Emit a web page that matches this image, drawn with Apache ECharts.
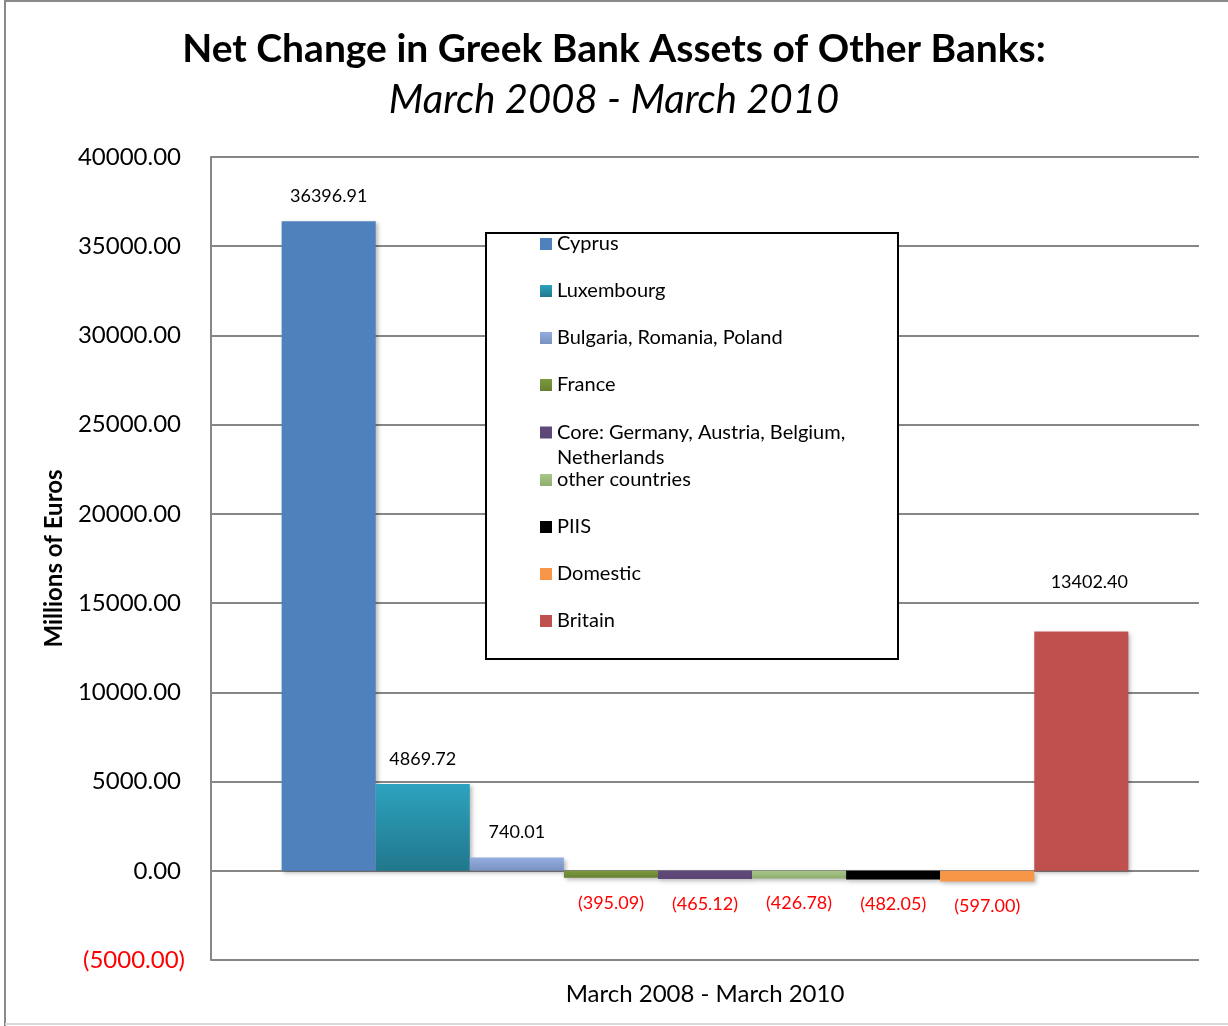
<!DOCTYPE html>
<html>
<head>
<meta charset="utf-8">
<script src="https://cdn.jsdelivr.net/npm/echarts@6/dist/echarts.min.js"></script>
<style>
  html, body { margin: 0; padding: 0; background: #fff; }
  #chart { width: 1228px; height: 1026px; }
</style>
</head>
<body>
<div id="chart"></div>
<script>
// Net change in Greek bank assets held by other banks, millions of euros
const period = ['March 2008 - March 2010'];
const seriesNames = [
  'Cyprus',
  'Luxembourg',
  'Bulgaria, Romania, Poland',
  'France',
  'Core: Germany, Austria, Belgium, Netherlands',
  'other countries',
  'PIIS',
  'Domestic',
  'Britain'
];
const seriesValues = [36396.91, 4869.72, 740.01, -395.09, -465.12, -426.78, -482.05, -597.00, 13402.40];
const yTicks = { min: -5000, max: 40000, step: 5000 };

// bar fills: [top colour, bottom colour]
const fills = [
  ['#4F81BD', '#4F81BD'],
  ['#2DA3BF', '#21778C'],
  ['#93AEDE', '#7891C2'],
  ['#7B9B3E', '#667F31'],
  ['#604A7B', '#5A4574'],
  ['#A8C68A', '#8FAE6D'],
  ['#000000', '#000000'],
  ['#F79646', '#F79646'],
  ['#C0504D', '#C0504D']
];

const FONT = 'Lato, "Noto Sans", sans-serif';

function fmt(v) {
  return v < 0 ? '(' + Math.abs(v).toFixed(2) + ')' : v.toFixed(2);
}

function grad(pair) {
  return {
    type: 'linear', x: 0, y: 0, x2: 0, y2: 1,
    colorStops: [{ offset: 0, color: pair[0] }, { offset: 1, color: pair[1] }]
  };
}

const series = seriesNames.map((name, i) => {
  const v = seriesValues[i];
  const neg = v < 0;
  const isBritain = name === 'Britain';
  return {
    name: name,
    type: 'bar',
    barGap: 0,
    barCategoryGap: '14.3%',
    data: [v],
    itemStyle: {
      color: grad(fills[i]),
      shadowColor: 'rgba(0,0,0,0.28)',
      shadowBlur: 4,
      shadowOffsetX: 2,
      shadowOffsetY: 2
    },
    label: {
      show: true,
      position: neg ? 'bottom' : 'top',
      distance: isBritain ? 40 : 16,
      offset: isBritain ? [8, 0] : [0, 0],
      fontFamily: FONT,
      fontSize: 18,
      color: neg ? '#FF0000' : '#000000',
      formatter: p => fmt(p.value)
    },
    emphasis: { disabled: true }
  };
});

const legendText = { fontFamily: FONT, fontSize: 20, color: '#000', lineHeight: 22 };
const legendBase = {
  orient: 'vertical', left: 540, padding: 0,
  itemGap: 25, itemWidth: 12, itemHeight: 12, icon: 'rect',
  selectedMode: false,
  textStyle: legendText
};

const chart = echarts.init(document.getElementById('chart'));
chart.setOption({
  backgroundColor: '#fff',
  animation: false,
  title: [
    {
      text: 'Net Change in Greek Bank Assets of Other Banks:',
      left: 'center', top: 22,
      textStyle: { fontFamily: FONT, fontSize: 39, fontWeight: 'bold', color: '#000', lineHeight: 44 }
    },
    {
      text: 'March 2008 - March 2010',
      left: 'center', top: 73,
      textStyle: { fontFamily: FONT, fontSize: 40, fontStyle: 'italic', fontWeight: 'normal', color: '#000', lineHeight: 44 }
    }
  ],
  legend: [
    Object.assign({}, legendBase, { top: 233, data: seriesNames.slice(0, 4) }),
    Object.assign({}, legendBase, {
      top: 395,
      data: [seriesNames[4]],
      textStyle: Object.assign({}, legendText, { lineHeight: 25 }),
      // leading empty line keeps the first text line level with the swatch
      formatter: () => '\nCore: Germany, Austria, Belgium,\nNetherlands'
    }),
    Object.assign({}, legendBase, { top: 469, data: seriesNames.slice(5) })
  ],
  grid: { left: 211, right: 29, top: 157, bottom: 66, containLabel: false },
  xAxis: {
    type: 'category',
    data: period,
    axisLine: { show: false },
    axisTick: { show: false },
    axisLabel: { margin: 22, fontFamily: FONT, fontSize: 24, color: '#000' }
  },
  yAxis: {
    type: 'value',
    min: yTicks.min, max: yTicks.max, interval: yTicks.step,
    name: 'Millions of Euros',
    nameLocation: 'middle',
    nameRotate: 90,
    nameGap: 145,
    nameTextStyle: { fontFamily: FONT, fontSize: 24, fontWeight: 'bold', color: '#000' },
    axisLine: { show: true, lineStyle: { color: '#868686', width: 2 } },
    axisTick: { show: false },
    splitLine: { show: true, lineStyle: { color: '#868686', width: 2 } },
    axisLabel: {
      margin: 26,
      formatter: v => v < 0 ? '{neg|' + fmt(v) + '}' : '{pos|' + fmt(v) + '}',
      rich: {
        pos: { fontFamily: FONT, fontSize: 24, color: '#000', padding: [0, 4, 0, 0] },
        neg: { fontFamily: FONT, fontSize: 24, color: '#FF0000' }
      }
    }
  },
  graphic: [
    {
      type: 'rect', z: 1,
      shape: { x: 486, y: 233, width: 412, height: 426 },
      style: { fill: '#fff', stroke: '#000', lineWidth: 2 }
    },
    {
      type: 'polyline', z: 10,
      shape: { points: [[5, 1026], [5, 1], [1228, 1]] },
      style: { stroke: '#898989', lineWidth: 2, fill: null }
    },
    {
      type: 'line', z: 10,
      shape: { x1: 5, y1: 1024, x2: 1228, y2: 1024 },
      style: { stroke: '#D9D9D9', lineWidth: 2 }
    }
  ],
  series: series
});
</script>
</body>
</html>
